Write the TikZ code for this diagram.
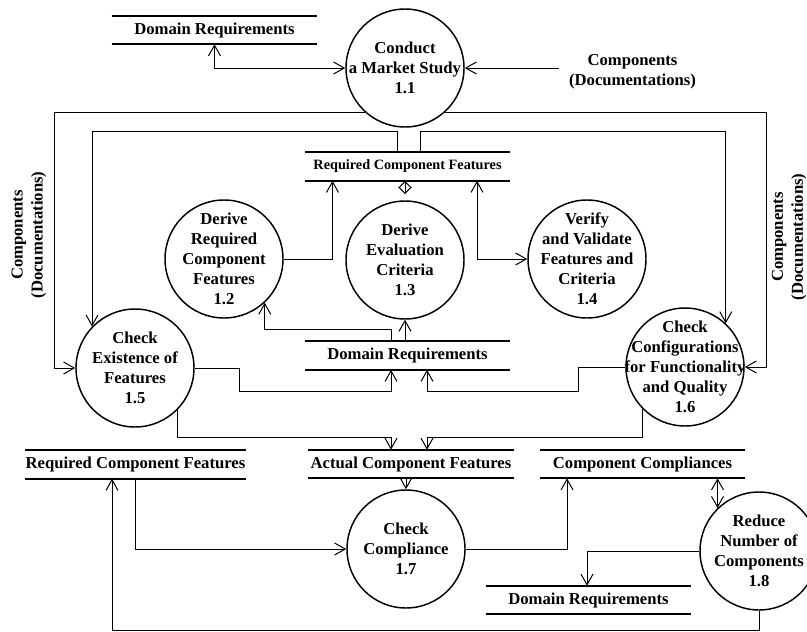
\documentclass[tikz,border=0pt]{standalone}
\usepackage{fontspec}
\setmainfont{Liberation Serif}
\usetikzlibrary{
  arrows.meta,
  calc,
  positioning
}
\tikzset{
  x=0.75pt, y=-0.75pt,
  >={Straight Barb[length=8pt,width=9pt]},
  every node/.style={font=\fontsize{12.5pt}{15pt}\selectfont\bfseries},
  proc/.style={circle, draw, line width=1.1pt, minimum size=88.5pt, inner sep=0pt},
  ptext/.style={align=center, inner sep=0pt},
  bar/.style={-, line width=1.8pt},
  store/.style={minimum width=153.75pt, minimum height=21pt, inner sep=0pt,
    append after command={(\tikzlastnode.north west) edge[bar] (\tikzlastnode.north east)
      (\tikzlastnode.south west) edge[bar] (\tikzlastnode.south east)}},
  flow/.style={line width=0.75pt},
  diam/.style={{Straight Barb[length=5pt,width=9.5pt]}-{Straight Barb[length=5pt,width=9.5pt]}}
}

\begin{document}
\begin{tikzpicture}
    \useasboundingbox (0,0) rectangle (807,632);

    % processes
    \node[proc] (p11) at (405,68) {};
    \node[ptext] (t11) at (p11) {Conduct\\a Market Study\\1.1};
    \node[proc] (p12) at (224,259) {};
    \node[ptext] (t12) at (p12) {Derive\\Required\\Component\\Features\\1.2};
    \node[proc] (p13) at (405,260) {};
    \node[ptext] (t13) at (p13) {Derive\\Evaluation\\Criteria\\1.3};
    \node[proc] (p14) at (587,259) {};
    \node[ptext] (t14) at (p14) {Verify\\and Validate\\Features and\\Criteria\\1.4};
    \node[proc] (p15) at (135,368) {};
    \node[ptext] (t15) at (p15) {Check\\Existence of\\Features\\1.5};
    \node[proc] (p16) at (685,367) {};
    \node[ptext] (t16) at (p16) {Check\\Configurations\\for Functionality\\and Quality\\1.6};
    \node[proc] (p17) at (406,549) {};
    \node[ptext] (t17) at (p17) {Check\\Compliance\\1.7};
    \node[proc] (p18) at (759,551) {};
    \node[ptext] (t18) at (p18) {Reduce\\Number of\\Components\\1.8};

    % data stores
    \node[store] (dr1) at (214.5,30) {Domain Requirements};
    \node[store, font=\fontsize{10.7pt}{13pt}\selectfont\bfseries] (rcf1) at (407.5,166.5) {Required Component Features};
    \node[store] (dr2) at (407.5,355.5) {Domain Requirements};
    \node[store] (rcf2) at (135.5,464.5) {Required Component Features};
    \node[store] (acf) at (411,464) {Actual Component Features};
    \node[store] (cc) at (642.5,464) {Component Compliances};
    \node[store] (dr3) at (588.5,600) {Domain Requirements};

    % external sources
    \node[align=center, inner xsep=7pt] (doc1) at (632.5,72) {Components\\(Documentations)};
    \node[align=center, rotate=90] (doc2) at (29,235) {Components\\(Documentations)};
    \node[align=center, rotate=90] (doc3) at (789,237) {Components\\(Documentations)};

    \coordinate (ol) at (54,0);
    \coordinate (or) at (766,0);
    \coordinate (il) at (0,131);

    % flows
    \draw[flow, <->] (dr1.south) |- (p11.west);
    \draw[flow, ->] (doc1.west |- p11.east) -- (p11.east);
    \draw[flow, ->] (p11.228) -| (ol |- p15.west) -- (p15.west);
    \draw[flow, ->] (p11.312) -| (or |- p16.east) -- (p16.east);
    \draw[flow, ->] ($(rcf1.north)+(-10,0)$) |- (il -| p15.136) -- (p15.136);
    \draw[flow, ->] ($(rcf1.north)+(12.5,0)$) |- (il -| p16.47) -- (p16.47);
    \draw[flow, ->] (p12.east) -| ($(rcf1.south)+(-75,0)$);
    \draw[flow, diam, shorten >=4.5pt] (p13.north |- rcf1.south) -- (p13.north);
    \draw[flow, <->] ($(rcf1.south)+(69.5,0)$) |- (p14.west);
    \draw[flow, ->] ($(dr2.north)+(-16.5,0)$) -- ++(0,-12) -| (p12.313);
    \draw[flow, ->] (p13.south |- dr2.north) -- (p13.south);
    \draw[flow, ->] (p15.east) -- ++(45,0) -- ++(0,23) -| ($(dr2.south)+(-16.5,0)$);
    \draw[flow, ->] (p16.west) -- ++(-47,0) -- ++(0,24) -| ($(dr2.south)+(19.5,0)$);
    \draw[flow, ->] (p15.315) |- ($(acf.north)+(-20,-12)$) -- ++(0,12);
    \draw[flow, ->] (p16.225) |- ($(acf.north)+(16,-12)$) -- ++(0,12);
    \draw[flow, ->] (p17.north |- acf.south) -- (p17.north);
    \draw[flow, ->] (rcf2.south) |- (p17.west);
    \draw[flow, ->] (p17.east) -| ($(cc.south)+(-75.5,0)$);
    \draw[flow, <->] (p18.134 |- cc.south) -- (p18.134);
    \draw[flow, ->] (p18.west) -| ($(dr3.north)+(-1.5,0)$);
    \draw[flow, ->] (p18.south) -- ++(0,20) -| ($(rcf2.south)+(-23.5,0)$);
\end{tikzpicture}
\end{document}
